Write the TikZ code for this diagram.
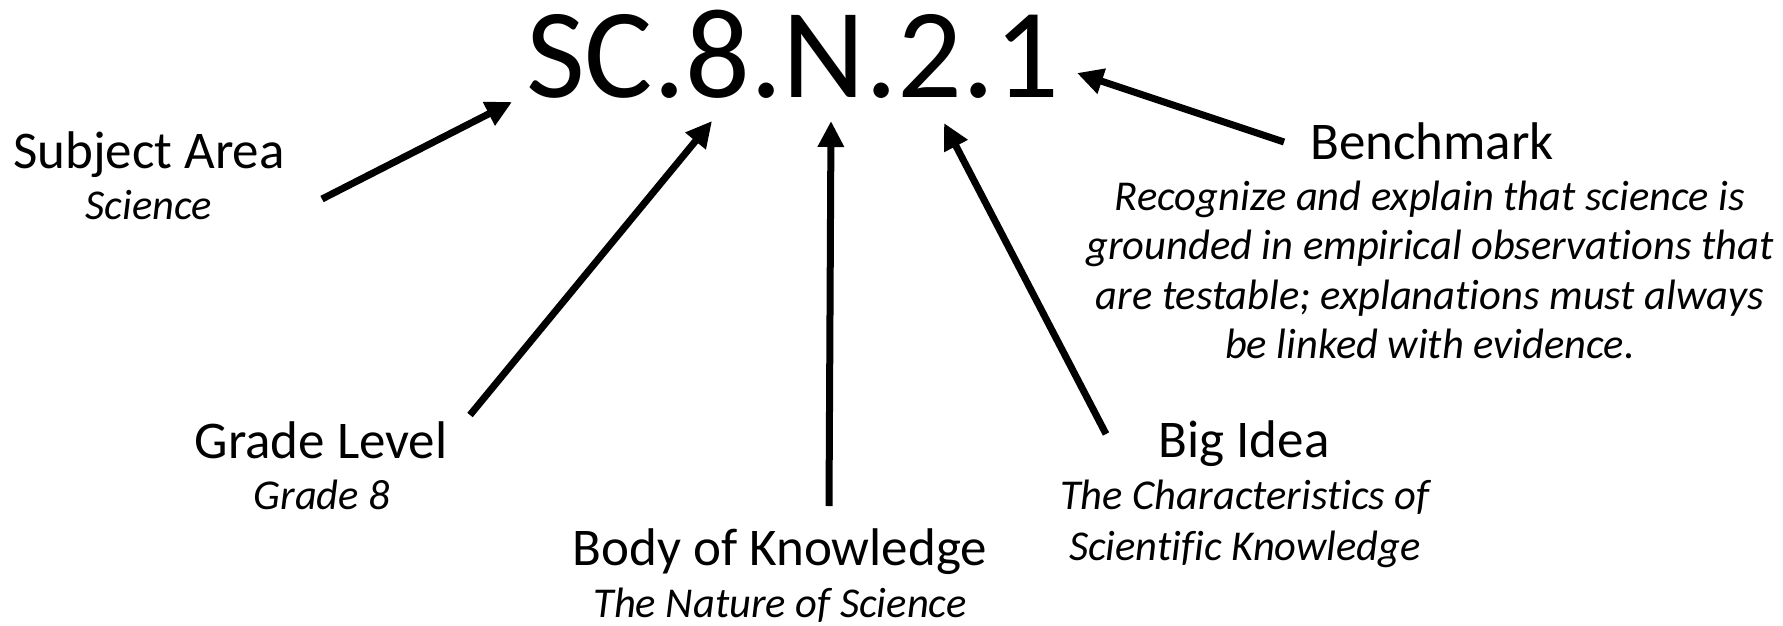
\documentclass[tikz,border=0pt]{standalone}
\usepackage{fontspec}
\setmainfont{Carlito}[Ligatures={NoCommon}]
\usetikzlibrary{positioning}
\usetikzlibrary{arrows.meta}
\tikzset{
    codetxt/.style = {anchor=base, inner sep=0pt, font=\fontsize{128}{150}\selectfont},
    headtxt/.style = {anchor=base, inner sep=0pt, font=\fontsize{53}{64}\selectfont},
    subtxt/.style = {anchor=base, inner sep=0pt, font=\fontsize{42.5}{50}\selectfont\itshape},
    pointer/.style = {line width=7pt, -{Triangle[length=26pt,width=25pt]}}
}

\begin{document}
\begin{tikzpicture}[x=1pt,y=-1pt]
\useasboundingbox (0,0) rectangle (1783,625);
%
\node[codetxt] at (793,97) (code) {SC.8.N.2.1};
%
\node[headtxt] at (149,168) (subj) {Subject Area};
\node[subtxt] at (149,219) (subjd) {Science};
\node[headtxt] at (321,458) (grade) {Grade Level};
\node[subtxt] at (322,509) (graded) {Grade 8};
\node[headtxt] at (780,565) (body) {Body of Knowledge};
\node[subtxt] at (780,617) (bodyd) {The Nature of Science};
\node[headtxt] at (1244,457) (idea) {Big Idea};
\node[subtxt] at (1245,509) (idea1) {The Characteristics of};
\node[subtxt] at (1245,560) (idea2) {Scientific Knowledge};
\node[headtxt] at (1432,159) (bench) {Benchmark};
\foreach \txt [count=\i] in {Recognize and explain that science is,
    grounded in empirical observations that,
    are testable; explanations must always,
    be linked with evidence.}
  \node[subtxt] at (1430,210+49.5*\i-49.5) (bench\i) {\txt};
%
\coordinate (subjS) at (322,199);  \coordinate (subjE) at (512,102);
\coordinate (gradeS) at (470,415); \coordinate (gradeE) at (712,121);
\coordinate (bodyS) at (829,506);  \coordinate (bodyE) at (831,121);
\coordinate (ideaS) at (1106,434); \coordinate (ideaE) at (944,123);
\coordinate (benchS) at (1284,142); \coordinate (benchE) at (1077,73);
%
\draw[pointer] (subjS) -- (subjE);
\draw[pointer] (gradeS) -- (gradeE);
\draw[pointer] (bodyS) -- (bodyE);
\draw[pointer] (ideaS) -- (ideaE);
\draw[pointer] (benchS) -- (benchE);
\end{tikzpicture}
\end{document}
